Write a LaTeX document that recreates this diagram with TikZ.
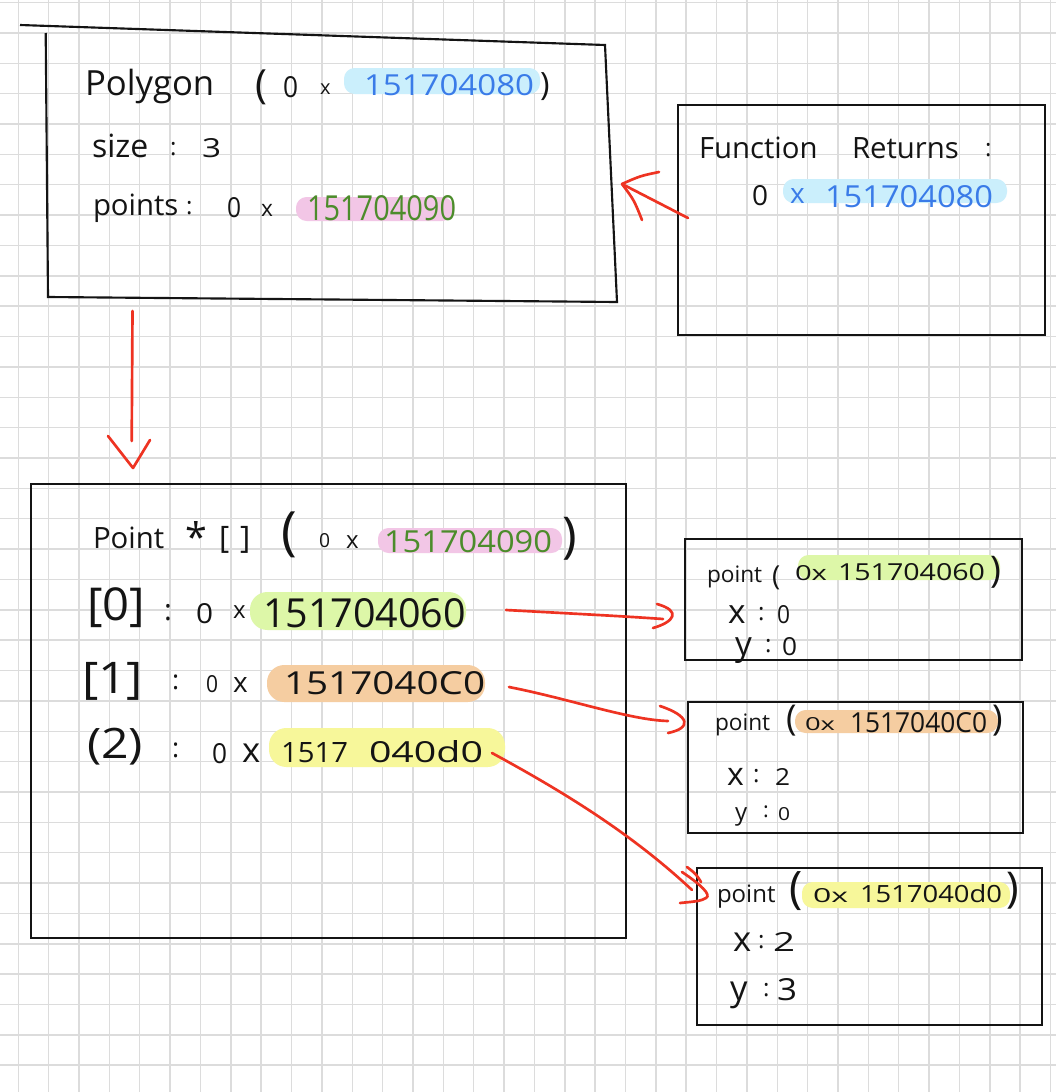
\documentclass[tikz,border=0pt]{standalone}
\usepackage{fontspec}
\setmainfont{Open Sans}
\usepackage{graphicx}
\newlength\pxu \setlength\pxu{0.75pt}
\newcommand\fs[1]{\fontsize{#1}{#1}\selectfont}
\newcommand\fitt[3]{\resizebox{#1\pxu}{#2\pxu}{#3}}
\newcommand\fitall[3]{\resizebox*{#1\pxu}{#2\pxu}{#3}}
\newcommand\fith[2]{\resizebox*{!}{#1\pxu}{#2}}
\definecolor{ink}{HTML}{141414}
\definecolor{gridc}{HTML}{DCDCDC}
\definecolor{redc}{HTML}{EE3322}
\definecolor{blu}{HTML}{3A7BE8}
\definecolor{grn}{HTML}{4C8C2B}
\definecolor{hlblue}{HTML}{CBEFFC}
\definecolor{hlpink}{HTML}{F2C6E6}
\definecolor{hlgreen}{HTML}{DDF7A8}
\definecolor{hlorange}{HTML}{F5CDA1}
\definecolor{hlyellow}{HTML}{F7F79A}
\begin{document}
\begin{tikzpicture}[x=0.75pt,y=-0.75pt,
  gridl/.style={draw=gridc,line width=1.1pt},
  boxl/.style={draw=ink,line width=1.6pt,line join=miter},
  rbox/.style={boxl,rectangle,inner sep=0pt,outer sep=0pt,anchor=north west},
  redl/.style={draw=redc,line width=2pt,line cap=round,line join=round},
  hw/.style={anchor=base west,inner sep=0pt,outer sep=0pt,text=ink},
  hwb/.style={anchor=south west,inner sep=0pt,outer sep=0pt,text=ink},
  hl/.style={rounded corners=8pt},
  hlb/.style={rounded corners=13pt}]
\useasboundingbox (0,0) rectangle (1056,1092);
\fill[white] (0,0) rectangle (1056,1092);
% grid paper
\foreach \i in {0,...,34} \draw[gridl] ({18.3+30.36*\i},0) -- ({18.3+30.36*\i},1092);
\foreach \j in {0,...,35} \draw[gridl] (0,{2.6+30.36*\j}) -- (1056,{2.6+30.36*\j});

% highlights
\fill[hlblue,hl] (344,68) rectangle (540,94);
\fill[hlpink,hl] (296,197) rectangle (453,221);
\fill[hlblue,hl] (783,179) rectangle (1007,203);
\fill[hlpink,hl] (378,528) rectangle (562,553);
\fill[hlgreen,hlb] (250,592) rectangle (466,630);
\fill[hlorange,hlb] (267,665) rectangle (485,702);
\fill[hlyellow,hlb] (269,728) rectangle (505,767);
\fill[hlgreen,hl] (798,555) rectangle (1000,580);
\fill[hlorange,hl] (795,710) rectangle (998,733);
\fill[hlyellow,hl] (802,882) rectangle (1010,908);

% polygon box (hand drawn)
\coordinate (pa) at (20,25);
\coordinate (pb) at (605,45);
\coordinate (pc) at (617,302);
\coordinate (pd) at (48,297);
\coordinate (pe) at (45.7,33);
\draw[boxl] (pa) -- (pb) -- (pc) -- (pd) -- (pe);

% other boxes
\node[rbox,minimum width=275.25pt,minimum height=172.5pt] (fr) at (678,105) {};
\node[rbox,minimum width=446.25pt,minimum height=340.5pt] (arr) at (31,484) {};
\node[rbox,minimum width=252.75pt,minimum height=90.75pt] (pt0) at (685,539) {};
\node[rbox,minimum width=251.25pt,minimum height=98.25pt] (pt1) at (688,702) {};
\node[rbox,minimum width=258.75pt,minimum height=117.75pt] (pt2) at (697,868) {};

% connectors
\coordinate (c1s) at (688,218);
\coordinate (c1t) at (622,184);
\draw[redl] (c1s) -- (c1t);
\draw[redl] (c1t) .. controls (640,176) .. (659,172);
\draw[redl] (c1t) .. controls (634,200) .. (642,220);

\coordinate (c2s) at (132.5,311);
\coordinate (c2e) at (131.7,441);
\coordinate (c2t) at (133,468);
\draw[redl] (c2s) -- (c2e);
\draw[redl] (108,436) -- (c2t) -- (150,440);

\coordinate (c3s) at (506,610);
\coordinate (c3e) at (663,619);
\draw[redl] (c3s) .. controls (580,614) and (620,616) .. (c3e);
\draw[redl] (657,604) .. controls (682,611) and (674,622) .. (653,628);

\coordinate (c4s) at (509,687);
\coordinate (c4e) at (668,721);
\draw[redl] (c4s) .. controls (570,699) and (630,720) .. (c4e);
\draw[redl] (660,706) .. controls (690,716) and (692,728) .. (668,733);

\coordinate (c5s) at (492,753);
\coordinate (c5e) at (692,890);
\draw[redl] (c5s) .. controls (560,790) and (630,832) .. (c5e);
\draw[redl] (682,872) .. controls (700,884) and (712,895) .. (706,898) .. controls (700,901) .. (680,903);
\draw[redl] (687,867) .. controls (696,874) .. (701,882);

% Polygon box text
\node[hw,font=\fs{26}] (t1) at (85,95) {Polygon};
\node[hwb] (t2) at (255,105) {\fith{35}{(}};
\node[hw] (t3) at (283,97) {\fitt{15}{21}{0}};
\node[hw,font=\fs{15}] (t4) at (320,94) {x};
\node[hw,text=blu] (t5) at (364,95) {\fitt{170}{21}{151704080}};
\node[hwb] (t6) at (540,101) {\fith{28}{)}};
\node[hw,font=\fs{24}] (t7) at (92,157) {size};
\node[hw,font=\fs{18}] (t8) at (170,155) {:};
\node[hw] (t9) at (202,157) {\fitt{19}{19}{3}};
\node[hw,font=\fs{22}] (t10) at (93,215) {points};
\node[hw,font=\fs{18}] (t11) at (186,214) {:};
\node[hw] (t12) at (227,217) {\fitt{14}{20}{0}};
\node[hw,font=\fs{17}] (t13) at (261,216) {x};
\node[hw,text=grn] (t14) at (307,220) {\fitt{149}{25}{151704090}};

% Function box text
\node[hw,font=\fs{22}] (t15) at (699,158) {Function};
\node[hw,font=\fs{22}] (t16) at (852,158) {Returns};
\node[hw,font=\fs{18}] (t17) at (985,156) {:};
\node[hw] (t18) at (752,205) {\fitt{16}{20}{0}};
\node[hw,font=\fs{21},text=blu] (t19) at (790,203) {x};
\node[hw,text=blu] (t20) at (825,207) {\fitt{168}{22}{151704080}};

% array box text
\node[hw,font=\fs{22}] (t21) at (93,548) {Point};
\node[hwb] (t22) at (185,551) {\fith{30}{*}};
\node[hwb] (t23) at (219,553) {\fith{27}{[\hspace{0.35em}]}};
\node[hwb] (t24) at (281,558) {\fith{46}{(}};
\node[hw] (t25) at (319,547) {\fitt{11}{14}{0}};
\node[hw,font=\fs{18}] (t26) at (346,548) {x};
\node[hw,text=grn] (t27) at (384,552) {\fitt{168}{22}{151704090}};
\node[hwb] (t28) at (562,560) {\fith{43}{)}};

\node[hwb] (t29) at (87,628) {\fitall{58}{40}{[0]}};
\node[hw,font=\fs{22}] (t30) at (164,620) {:};
\node[hw] (t31) at (196,623) {\fitt{17}{20}{0}};
\node[hw,font=\fs{18}] (t32) at (233,618) {x};
\node[hw] (t33) at (263,627) {\fitt{203}{29}{151704060}};

\node[hwb] (t34) at (82,700) {\fitall{61}{38}{[1]}};
\node[hw,font=\fs{20}] (t35) at (172,689) {:};
\node[hw] (t36) at (206,692) {\fitt{12}{17}{0}};
\node[hw,font=\fs{21}] (t37) at (233,692) {x};
\node[hw] (t38) at (284,694) {\fitt{201}{23}{1517040C0}};

\node[hwb] (t39) at (87,765) {\fitall{56}{37}{(2)}};
\node[hw,font=\fs{20}] (t40) at (172,757) {:};
\node[hw] (t41) at (212,763) {\fitt{15}{20}{0}};
\node[hw,font=\fs{26}] (t42) at (242,762) {x};
\node[hw] (t43) at (281,762) {\fitt{67}{20}{1517}};
\node[hw] (t44) at (369,762) {\fitt{114}{22}{040d0}};

% point box 0
\node[hw,font=\fs{17}] (t45) at (707,582) {point};
\node[hwb] (t46) at (772,590) {\fith{24}{(}};
\node[hw] (t47) at (795,580) {\fitt{32}{15}{0x}};
\node[hw] (t48) at (838,580) {\fitt{147}{17}{151704060}};
\node[hwb] (t49) at (990,588) {\fith{32}{)}};
\node[hw,font=\fs{25}] (t50) at (728,623) {x};
\node[hw,font=\fs{18}] (t51) at (758,620) {:};
\node[hw] (t52) at (777,623) {\fitt{13}{18}{0}};
\node[hw,font=\fs{25}] (t53) at (735,655) {y};
\node[hw,font=\fs{18}] (t54) at (765,652) {:};
\node[hw] (t55) at (782,655) {\fitt{15}{18}{0}};

% point box 1
\node[hw,font=\fs{17}] (t56) at (715,730) {point};
\node[hwb] (t57) at (786,736) {\fith{31}{(}};
\node[hw] (t58) at (805,730) {\fitt{30}{13}{0x}};
\node[hw] (t59) at (850,732) {\fitt{137}{20}{1517040C0}};
\node[hwb] (t60) at (992,736) {\fith{31}{)}};
\node[hw,font=\fs{24}] (t61) at (727,785) {x};
\node[hw,font=\fs{18}] (t62) at (753,782) {:};
\node[hw] (t63) at (775,785) {\fitt{15}{17}{2}};
\node[hw,font=\fs{18}] (t64) at (735,820) {y};
\node[hw,font=\fs{16}] (t65) at (763,817) {:};
\node[hw] (t66) at (778,820) {\fitt{12}{13}{0}};

% point box 2
\node[hw,font=\fs{18}] (t67) at (717,902) {point};
\node[hwb] (t68) at (789,911) {\fith{39}{(}};
\node[hw] (t69) at (813,902) {\fitt{35}{14}{0x}};
\node[hw] (t70) at (860,902) {\fitt{142}{18}{1517040d0}};
\node[hwb] (t71) at (1006,909) {\fith{37}{)}};
\node[hw,font=\fs{26}] (t72) at (733,951) {x};
\node[hw,font=\fs{18}] (t73) at (758,948) {:};
\node[hw] (t74) at (773,951) {\fitt{22}{19}{2}};
\node[hw,font=\fs{26}] (t75) at (730,1000) {y};
\node[hw,font=\fs{18}] (t76) at (763,996) {:};
\node[hw] (t77) at (777,1000) {\fitt{20}{22}{3}};
\end{tikzpicture}
\end{document}
